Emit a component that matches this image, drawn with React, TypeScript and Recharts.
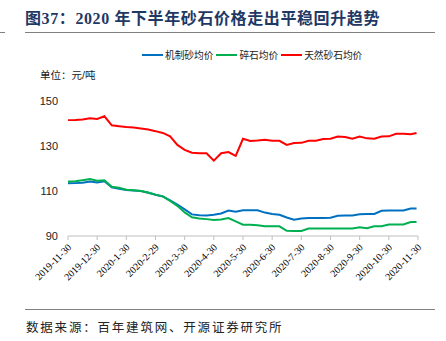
import React from "react";
import { LineChart, Line, XAxis, YAxis } from "recharts";

const monthLabels = [
  "2019-11-30", "2019-12-30", "2020-1-30", "2020-2-29", "2020-3-30", "2020-4-30",
  "2020-5-30", "2020-6-30", "2020-7-30", "2020-8-30", "2020-9-30", "2020-10-30", "2020-11-30",
];
const monthTicks = [0, 1, 2, 3, 4, 5, 6, 7, 8, 9, 10, 11, 12];
const yTicks = [90, 110, 130, 150];

// x positions in months since 2019-11-30 (weekly samples)
const xPos = [
  0, 0.25, 0.5, 0.75, 1, 1.25, 1.5, 1.75, 2, 2.25, 2.5, 2.75, 3, 3.25, 3.5, 3.75,
  4, 4.25, 4.5, 4.75, 5, 5.25, 5.5, 5.75, 6, 6.25, 6.5, 6.75, 7, 7.25, 7.5, 7.75,
  8, 8.25, 8.5, 8.75, 9, 9.25, 9.5, 9.75, 10, 10.25, 10.5, 10.75, 11, 11.25, 11.5, 11.75, 11.95,
];
const machineSand = [
  113.4, 113.5, 113.7, 114.2, 113.8, 114.3, 111.6, 111.0, 110.4, 110.2, 110.0, 109.2, 108.3, 107.6, 105.8, 104.0,
  101.8, 99.6, 99.2, 99.1, 99.4, 100.0, 101.3, 100.8, 101.4, 101.4, 101.4, 100.4, 99.8, 99.4, 98.2, 97.2,
  97.8, 98.0, 98.0, 98.0, 98.1, 99.0, 99.1, 99.1, 99.7, 99.8, 99.8, 101.2, 101.3, 101.3, 101.3, 102.2, 102.2,
];
const gravel = [
  114.2, 114.3, 114.8, 115.3, 114.6, 114.8, 111.9, 111.4, 110.6, 110.3, 110.0, 109.3, 108.4, 107.6, 105.6, 103.4,
  100.5, 98.3, 97.8, 97.5, 97.1, 97.3, 98.0, 96.5, 95.0, 95.0, 94.8, 94.3, 94.3, 94.3, 92.3, 92.2,
  92.2, 93.3, 93.3, 93.3, 93.3, 93.3, 93.3, 93.3, 93.9, 93.5, 94.3, 94.3, 95.1, 95.1, 95.1, 96.2, 96.2,
];
const naturalSand = [
  141.5, 141.6, 141.8, 142.3, 142.0, 143.2, 139.2, 138.8, 138.4, 138.2, 137.8, 137.3, 136.6, 135.8, 134.3, 130.5,
  128.3, 127.0, 126.8, 126.8, 123.5, 126.8, 127.3, 125.6, 133.2, 132.2, 132.4, 132.8, 132.3, 132.3, 130.5, 131.3,
  131.4, 132.3, 132.3, 133.1, 133.2, 134.2, 134.0, 133.2, 134.2, 133.4, 133.2, 134.2, 134.3, 135.4, 135.4, 135.2, 135.8,
];

const seriesNames = ["机制砂均价", "碎石均价", "天然砂石均价"];
const colors = ["#0070C0", "#00B050", "#FF0000"];

const data = xPos.map((x, i) => ({
  x,
  a: machineSand[i],
  b: gravel[i],
  c: naturalSand[i],
}));

const XTick = (props: any) => {
  const { x, y, payload } = props;
  return (
    <g transform={`translate(${x + 4},${y + 6})`}>
      <text
        x={0}
        y={0}
        textAnchor="end"
        transform="rotate(-45)"
        fontSize={10}
        fontFamily='"Liberation Serif", "DejaVu Serif", serif'
        fill="#000"
      >
        {monthLabels[payload.value]}
      </text>
    </g>
  );
};

const sans = '"Liberation Sans", Arial, "Noto Sans CJK SC", sans-serif';

export default function App() {
  return (
    <div
      style={{
        position: "absolute",
        left: 0,
        top: 0,
        width: 446,
        height: 341,
        background: "#fff",
        overflow: "hidden",
      }}
    >
      <div
        style={{
          position: "absolute",
          left: 25,
          top: 5,
          fontSize: 16,
          fontWeight: "bold",
          color: "#1F3864",
          fontFamily: '"Liberation Serif", "Noto Sans CJK SC", serif',
          whiteSpace: "nowrap",
          letterSpacing: 0.6,
        }}
      >
        图37：2020 年下半年砂石价格走出平稳回升趋势
      </div>
      <div style={{ position: "absolute", left: 0, top: 32, width: 5, height: 1, background: "#808080" }} />
      <div style={{ position: "absolute", left: 25, top: 32, width: 410, height: 1, background: "#808080" }} />

      <div
        style={{
          position: "absolute",
          left: 142,
          top: 48,
          display: "flex",
          alignItems: "center",
          fontSize: 9.7,
          fontFamily: sans,
          color: "#222",
          whiteSpace: "nowrap",
        }}
      >
        {seriesNames.map((n, i) => (
          <span key={n} style={{ display: "flex", alignItems: "center", marginRight: 3 }}>
            <span style={{ display: "inline-block", width: 21, height: 2, background: colors[i], marginRight: 2 }} />
            <span>{n}</span>
          </span>
        ))}
      </div>
      <div
        style={{
          position: "absolute",
          left: 40,
          top: 67,
          fontSize: 10.5,
          fontFamily: sans,
          color: "#222",
          whiteSpace: "nowrap",
        }}
      >
        单位：元/吨
      </div>

      <div style={{ position: "absolute", left: 0, top: 0 }}>
        <LineChart
          width={446}
          height={341}
          data={data}
          margin={{ top: 101, right: 28, bottom: 55, left: 28 }}
        >
          <XAxis
            dataKey="x"
            type="number"
            domain={[0, 12]}
            ticks={monthTicks}
            interval={0}
            tick={<XTick />}
            tickLine={{ stroke: "#BFBFBF" }}
            tickSize={4}
            axisLine={{ stroke: "#BFBFBF" }}
            height={50}
          />
          <YAxis
            type="number"
            domain={[90, 150]}
            ticks={yTicks}
            interval={0}
            axisLine={false}
            tickLine={false}
            width={40}
            tick={{ fontSize: 11, fill: "#222", fontFamily: sans }}
            tickMargin={4}
          />
          <Line type="linear" dataKey="a" stroke={colors[0]} strokeWidth={2} dot={false} isAnimationActive={false} />
          <Line type="linear" dataKey="b" stroke={colors[1]} strokeWidth={2} dot={false} isAnimationActive={false} />
          <Line type="linear" dataKey="c" stroke={colors[2]} strokeWidth={2} dot={false} isAnimationActive={false} />
        </LineChart>
      </div>

      <div style={{ position: "absolute", left: 25, top: 309, width: 410, height: 1, background: "#808080" }} />
      <div
        style={{
          position: "absolute",
          left: 26,
          top: 317,
          fontSize: 12.5,
          fontFamily: '"Noto Sans CJK SC", sans-serif',
          color: "#222",
          whiteSpace: "nowrap",
          letterSpacing: 1.8,
        }}
      >
        数据来源：百年建筑网、开源证券研究所
      </div>
    </div>
  );
}
